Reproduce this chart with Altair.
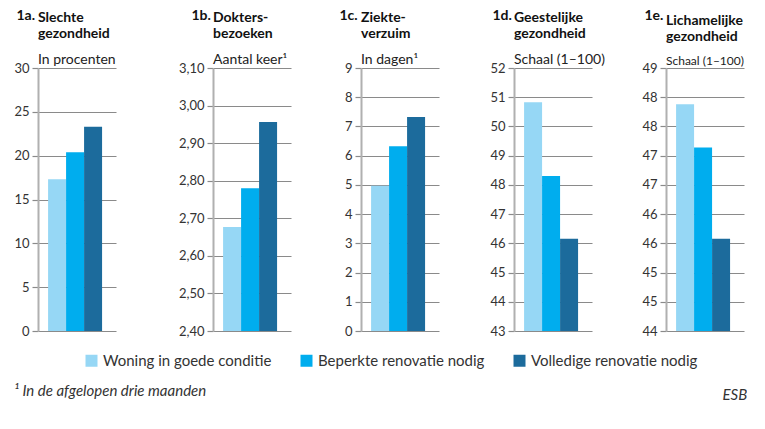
import altair as alt
import pandas as pd

FONT = "Lato"

categories = ["Woning in goede conditie", "Beperkte renovatie nodig", "Volledige renovatie nodig"]
colors = ["#96d7f5", "#00adee", "#1c6b9c"]

panel_numbers = ["1a.", "1b.", "1c.", "1d.", "1e."]
panel_headings = [["Slechte", "gezondheid"], ["Dokters-", "bezoeken"], ["Ziekte-", "verzuim"],
                  ["Geestelijke", "gezondheid"], ["Lichamelijke", "gezondheid"]]
panel_units = ["In procenten", "Aantal keer¹", "In dagen¹", "Schaal (1–100)", "Schaal (1–100)"]

slechte_gezondheid = [17.3, 20.4, 23.3]
doktersbezoeken = [2.677, 2.78, 2.956]
ziekteverzuim = [4.97, 6.32, 7.32]
geestelijke_gezondheid = [50.83, 48.3, 46.16]
lichamelijke_gezondheid = [47.88, 47.14, 45.58]
series = [slechte_gezondheid, doktersbezoeken, ziekteverzuim, geestelijke_gezondheid, lichamelijke_gezondheid]

y_domains = [[0, 30], [2.4, 3.1], [0, 9], [43, 52], [44, 48.5]]
y_ticks = [
    [0, 5, 10, 15, 20, 25, 30],
    [2.4, 2.5, 2.6, 2.7, 2.8, 2.9, 3.0, 3.1],
    [0, 1, 2, 3, 4, 5, 6, 7, 8, 9],
    [43, 44, 45, 46, 47, 48, 49, 50, 51, 52],
    [44, 44.5, 45, 45.5, 46, 46.5, 47, 47.5, 48, 48.5],
]
y_label_exprs = [
    "format(datum.value, 'd')",
    "replace(format(datum.value, '.2f'), '.', ',')",
    "format(datum.value, 'd')",
    "format(datum.value, 'd')",
    "format(datum.value, '.0f')",
]
axis_extents = [24, 97, 70, 75, 61]
subtitle_sizes = [14, 14, 14, 14, 12]

footnote = "¹ In de afgelopen drie maanden"
source_label = "ESB"

color_enc = alt.Color(
    "categorie:N",
    scale=alt.Scale(domain=categories, range=colors),
    legend=alt.Legend(
        orient="none", legendX=46, legendY=285, direction="horizontal", title=None,
        symbolType="square", symbolSize=144, symbolStrokeWidth=0,
        labelFontSize=15, labelFont=FONT, labelColor="#333", columnPadding=27, labelLimit=400,
    ),
)

panels = []
for i in range(5):
    df = pd.DataFrame({"categorie": categories, "waarde": series[i]})
    if i == 4:
        x_axis = alt.Axis(labels=False, ticks=False, domain=False, grid=False, title=source_label,
                          titleX=56, titleY=68, titleAlign="left", titleBaseline="alphabetic",
                          titleAngle=0, titleFontStyle="italic", titleFontWeight="normal",
                          titleFontSize=15, titleFont=FONT, titleColor="#333")
    else:
        x_axis = None
    y_axis = alt.Axis(
        values=y_ticks[i], labelExpr=y_label_exprs[i],
        title=panel_numbers[i], titleAngle=0, titleX=-22, titleY=-49, titleAlign="left",
        titleBaseline="alphabetic", titleFontWeight="bold", titleFontSize=14, titleFont=FONT,
        titleColor="#111", minExtent=axis_extents[i],
    )
    p = alt.Chart(df).mark_bar(clip=True).encode(
        x=alt.X("categorie:N", sort=categories,
                scale=alt.Scale(domain=categories, paddingInner=0, paddingOuter=0.667, align=0.42),
                axis=x_axis),
        y=alt.Y("waarde:Q", scale=alt.Scale(domain=y_domains[i], nice=False, zero=False), axis=y_axis),
        color=color_enc,
    ).properties(
        width=78, height=263,
        title=alt.TitleParams(
            text=panel_headings[i], subtitle=panel_units[i], anchor="start", frame="group", dx=0,
            font=FONT, fontSize=14, fontWeight="bold", color="#111", lineHeight=16,
            subtitleFont=FONT, subtitleFontSize=subtitle_sizes[i], subtitleColor="#222",
            subtitlePadding=12, offset=-59,
        ),
    )
    panels.append(p)

chart = alt.hconcat(*panels, spacing=0).resolve_scale(y="independent", color="shared").properties(
    title=alt.TitleParams(footnote, orient="bottom", anchor="start", fontStyle="italic",
                          fontWeight="normal", fontSize=15, font=FONT, color="#333", offset=-18),
    padding={"left": 5, "top": 0, "right": 0, "bottom": 0},
).configure_view(stroke=None).configure_axisY(
    gridColor="#8a8a8a", gridWidth=1.2, tickColor="#8a8a8a", tickWidth=1.2, tickSize=6,
    domainColor="#b0b0b0", domainWidth=2, labelFont=FONT, labelFontSize=13, labelColor="#333",
    labelPadding=3,
)

chart.save("out.html", embed_options={"renderer": "svg", "actions": False})
